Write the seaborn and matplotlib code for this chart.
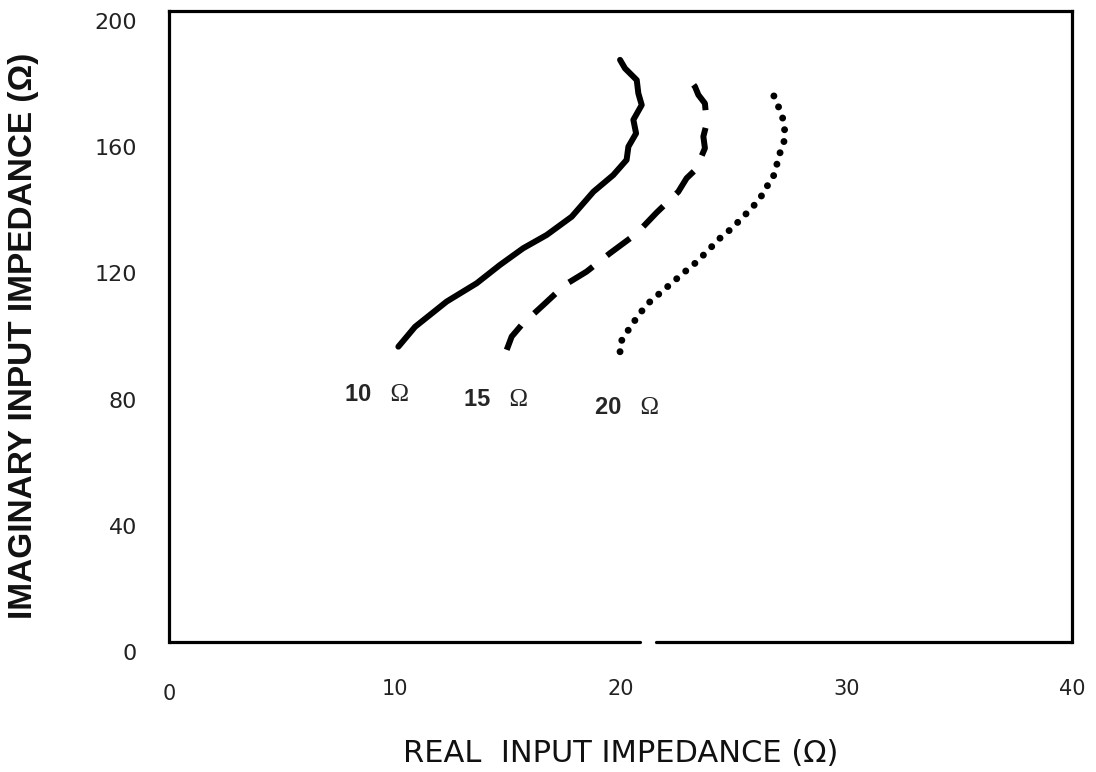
import numpy as np
import pandas as pd
import matplotlib
matplotlib.use("Agg")
import matplotlib.pyplot as plt
import matplotlib.transforms as mtransforms
import seaborn as sns

# curve for 10 ohm load (real, imaginary)
re_10 = [10.16, 10.90, 12.30, 13.63, 14.66, 15.69, 16.73, 17.84, 18.80, 19.68,
         20.27, 20.35, 20.69, 20.57, 20.94, 20.79, 20.72, 20.20, 19.98]
im_10 = [93.6, 99.9, 107.9, 113.7, 119.5, 124.8, 129.0, 134.8, 142.7, 148.0,
         152.8, 157.0, 161.2, 165.5, 170.2, 173.9, 178.1, 181.8, 184.5]

# curve for 15 ohm load
re_15 = [14.96, 15.18, 15.62, 16.58, 17.54, 18.50, 19.53, 20.72, 21.60, 22.56,
         22.93, 23.34, 23.74, 23.67, 23.82, 23.74, 23.45, 23.30, 23.08]
im_15 = [92.6, 96.8, 100.5, 106.8, 113.2, 117.4, 123.2, 129.5, 136.1, 142.7,
         147.0, 149.8, 156.5, 160.2, 164.4, 170.7, 173.4, 176.0, 178.1]

# curve for 20 ohm load
re_20 = [19.98, 19.98, 20.20, 20.50, 20.86, 21.31, 21.82, 22.34, 22.86, 23.38,
         23.89, 24.41, 24.93, 25.37, 25.81, 26.18, 26.48, 26.77, 26.92, 27.06,
         27.24, 27.28, 27.21, 27.06, 26.84, 26.62]
im_20 = [92.0, 94.7, 97.3, 100.5, 104.2, 107.9, 111.0, 114.2, 117.4, 120.5,
         124.2, 128.0, 131.1, 134.3, 137.5, 140.6, 144.3, 147.5, 151.2, 154.9,
         158.6, 161.7, 165.5, 168.6, 172.3, 176.0]

# curve labels and where they sit
labels = ["10", "15", "20"]
label_x = [9.26, 14.53, 20.33]
label_y = [78.3, 76.7, 74.2]

x_ticks = [0, 10, 20, 30, 40]
y_ticks = [0, 40, 80, 120, 160, 200]

sns.set_style("white")
plt.rcParams['font.family'] = ['DejaVu Sans']

fig = plt.figure(figsize=(10.96, 7.72), dpi=100)
ax = fig.add_axes([0.1542, 0.1684, 0.8239, 0.8174])

lw = 4.3
sns.lineplot(x=re_10, y=im_10, sort=False, estimator=None, color="black",
             linewidth=lw, ax=ax)
l15 = sns.lineplot(x=re_15, y=im_15, sort=False, estimator=None, color="black",
                   linewidth=lw, ax=ax).lines[-1]
l15.set_linestyle((0, (4.8, 3.0)))
l20 = sns.lineplot(x=re_20, y=im_20, sort=False, estimator=None, color="black",
                   linewidth=5.0, ax=ax).lines[-1]
l20.set_linestyle((0, (0.01, 1.7)))
l20.set_dash_capstyle("round")

for lab, lx, ly in zip(labels, label_x, label_y):
    ax.text(lx, ly, lab + " ", fontsize=17, fontweight="bold", ha="right",
            va="center", family="Liberation Sans")
    ax.text(lx, ly, "  \u03a9", fontsize=18, ha="left", va="center",
            family="Liberation Serif")

ax.set_xlim(0, 40)
ax.set_ylim(0, 200)
ax.set_xticks(x_ticks)
ax.set_yticks(y_ticks)
ax.set_xticklabels([str(t) for t in x_ticks], fontsize=15, color="#222222")
ax.set_yticklabels([str(t) for t in y_ticks], fontsize=16, color="#222222")
ax.tick_params(axis="x", length=0, pad=27)
ax.tick_params(axis="y", length=0, pad=23)
shift = mtransforms.ScaledTranslation(0, -10 / 100, fig.dpi_scale_trans)
for t in ax.get_yticklabels():
    t.set_transform(t.get_transform() + shift)
# the "0" under the x axis sits a little lower than the others
xshift = mtransforms.ScaledTranslation(0, -5 / 100, fig.dpi_scale_trans)
first = ax.get_xticklabels()[0]
first.set_transform(first.get_transform() + xshift)

for s in ["left", "top", "right"]:
    ax.spines[s].set_linewidth(2.3)
    ax.spines[s].set_color("black")
ax.spines["bottom"].set_visible(False)
# bottom frame line has a small break near x=21
ax.axhline(0, xmin=0, xmax=0.5216, color="black", linewidth=2.3, clip_on=False)
ax.axhline(0, xmin=0.539, xmax=1, color="black", linewidth=2.3, clip_on=False)

ax.set_xlabel("REAL  INPUT IMPEDANCE (\u03a9)", fontsize=22, color="#111111")
ax.xaxis.set_label_coords(0.5, -0.153)
ax.set_ylabel("IMAGINARY INPUT IMPEDANCE (\u03a9)", fontsize=24,
              fontweight="bold", family="Liberation Sans", color="#111111")
ax.yaxis.set_label_coords(-0.144, 0.485)

fig.savefig("out.png", dpi=100)
